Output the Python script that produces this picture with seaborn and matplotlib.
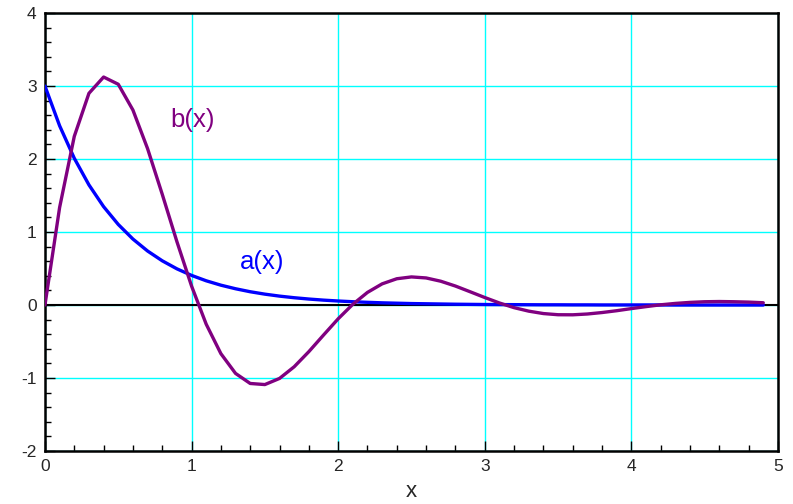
import matplotlib
matplotlib.use("Agg")
import matplotlib.pyplot as plt
import seaborn as sns
import pandas as pd
from matplotlib.ticker import MultipleLocator

sns.set_style("white")
plt.rcParams['font.family'] = ['Liberation Sans', 'DejaVu Sans']
plt.rcParams['axes.unicode_minus'] = False

x_vals = [round(0.1 * i, 1) for i in range(50)]
a_vals = [3.000, 2.456, 2.011, 1.646, 1.348, 1.104, 0.904, 0.740, 0.606, 0.496,
          0.406, 0.332, 0.272, 0.223, 0.182, 0.149, 0.122, 0.100, 0.082, 0.067,
          0.055, 0.045, 0.037, 0.030, 0.025, 0.020, 0.017, 0.014, 0.011, 0.009,
          0.007, 0.006, 0.005, 0.004, 0.003, 0.003, 0.002, 0.002, 0.001, 0.001,
          0.001, 0.001, 0.001, 0.000, 0.000, 0.000, 0.000, 0.000, 0.000, 0.000]
b_vals = [0.000, 1.337, 2.311, 2.901, 3.124, 3.025, 2.672, 2.143, 1.518, 0.869,
          0.260, -0.263, -0.666, -0.937, -1.075, -1.090, -1.006, -0.846, -0.639, -0.412,
          -0.189, 0.010, 0.173, 0.290, 0.360, 0.385, 0.371, 0.326, 0.260, 0.182,
          0.103, 0.028, -0.036, -0.084, -0.117, -0.133, -0.134, -0.123, -0.103, -0.078,
          -0.049, -0.022, 0.003, 0.022, 0.036, 0.045, 0.048, 0.045, 0.040, 0.031]

df = pd.DataFrame({"x": x_vals, "a": a_vals, "b": b_vals})

fig = plt.figure(figsize=(7.93, 5.04), dpi=100)
ax = fig.add_axes([0.0567, 0.1052, 0.9243, 0.8688])

ax.grid(True, color="#00ffff", linewidth=1.0)
ax.set_axisbelow(True)
ax.axhline(0, color="black", linewidth=1.5, zorder=1.5)

sns.lineplot(data=df, x="x", y="a", ax=ax, color="#0000ff", linewidth=2.4, zorder=3)
sns.lineplot(data=df, x="x", y="b", ax=ax, color="#800080", linewidth=2.4, zorder=3)

ax.set_xlim(0, 5)
ax.set_ylim(-2, 4)
ax.xaxis.set_major_locator(MultipleLocator(1))
ax.yaxis.set_major_locator(MultipleLocator(1))
ax.xaxis.set_minor_locator(MultipleLocator(0.2))
ax.yaxis.set_minor_locator(MultipleLocator(0.2))
ax.tick_params(which="both", direction="in", left=True, bottom=True, top=False, right=False,
               color="black")
ax.tick_params(which="major", length=7, width=1, labelsize=12.5, pad=6)
ax.tick_params(which="minor", length=4, width=1)
ax.grid(False, which="minor")

for s in ax.spines.values():
    s.set_color("black")
    s.set_linewidth(1.8)

ax.set_xlabel("x", fontsize=16, labelpad=5)
ax.set_ylabel("")

ax.text(1.01, 2.53, "b(x)", color="#800080", fontsize=18.5, ha="center", va="center")
ax.text(1.48, 0.59, "a(x)", color="#0000ff", fontsize=18.5, ha="center", va="center")

fig.savefig("out.png", dpi=100)
